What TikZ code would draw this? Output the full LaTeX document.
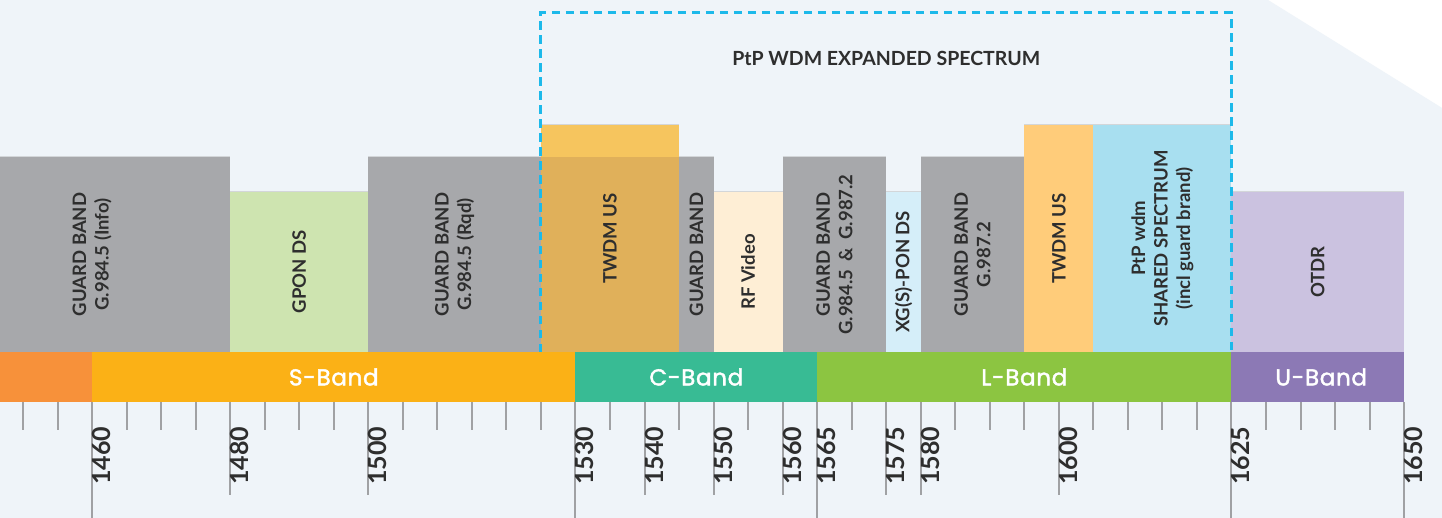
\documentclass[tikz,border=0pt]{standalone}
\usepackage{fontspec}
\setmainfont{Lato}
\newfontfamily\bandfont[LetterSpace=3,FakeBold=1.8]{Poppins}
\definecolor{bg}{HTML}{EFF4F9}
\definecolor{gb}{HTML}{A7A8AB}
\definecolor{gpon}{HTML}{CEE4B0}
\definecolor{twa}{HTML}{F6C55E}
\definecolor{twb}{HTML}{E0B05A}
\definecolor{rfv}{HTML}{FEEED5}
\definecolor{xgs}{HTML}{D5EEF9}
\definecolor{twc}{HTML}{FFCC7A}
\definecolor{ptp}{HTML}{A8DFF0}
\definecolor{otdr}{HTML}{CBC2E0}
\definecolor{ob}{HTML}{F7913A}
\definecolor{sb}{HTML}{FBB116}
\definecolor{cb}{HTML}{38BB94}
\definecolor{lb}{HTML}{8CC541}
\definecolor{ub}{HTML}{8C79B5}
\definecolor{tickc}{HTML}{A0A1A4}
\definecolor{txt}{HTML}{2E2E2E}
\definecolor{dashc}{HTML}{1DB9EA}
\definecolor{edgec}{HTML}{D3D6D9}
\newcommand\mkblock[4]{%
  \fill[#4] (#1,#3) rectangle (#2,352);
  \draw[edgec,line width=1.2pt] (#1,{#3-0.6}) -- (#2,{#3-0.6});}
\begin{document}
\begin{tikzpicture}[x=6.905pt,y=-1pt,
  blocktext/.style={rotate=90,align=center,text=txt,font=\bfseries\fontsize{18.5}{22.5}\selectfont,inner sep=0pt},
  bandtext/.style={text=white,font=\bandfont\fontsize{23}{27}\selectfont,inner sep=0pt},
  axistext/.style={rotate=90,anchor=north west,text=txt,font=\bfseries\fontsize{25}{30}\selectfont,inner sep=0pt,xshift=8pt},
  tickline/.style={draw=tickc,line width=2pt},
  expand/.style={draw=dashc,line width=3pt,dash pattern=on 8.5pt off 5.5pt}]
\def\L{1446.676}\def\R{1655.509}
\useasboundingbox (\L,0) rectangle (\R,518);
\fill[white] (\L,0) rectangle (\R,518);
\fill[bg] (\L,0) -- (1630.3,0) -- (\R,108) -- (\R,518) -- (\L,518) -- cycle;
% spectrum blocks
\mkblock{\L}{1480}{157}{gb}
\mkblock{1480}{1500}{192}{gpon}
\mkblock{1500}{1550}{157}{gb}
\mkblock{1550}{1560}{192}{rfv}
\mkblock{1560}{1575}{157}{gb}
\mkblock{1575}{1580}{192}{xgs}
\mkblock{1580}{1595}{157}{gb}
\mkblock{1595}{1605}{125}{twc}
\mkblock{1605}{1625}{125}{ptp}
\mkblock{1625}{1650}{192}{otdr}
\fill[twa] (1525,125) rectangle (1545,157);
\draw[edgec,line width=1.2pt] (1525,124.4) -- (1545,124.4);
\fill[twb] (1525,157) rectangle (1545,352);
% block labels
\node[blocktext] (g1) at (1460,254.5) {GUARD BAND\\G.984.5 (Info)};
\node[blocktext] (gpds) at (1490,272) {GPON DS};
\node[blocktext] (g2) at (1512.5,254.5) {GUARD BAND\\G.984.5 (Rqd)};
\node[blocktext] (tw1) at (1535,238.5) {TWDM US};
\node[blocktext] (g3) at (1547.5,254.5) {GUARD BAND};
\node[blocktext] (rf) at (1555,272) {RF Video};
\node[blocktext] (g4) at (1567.5,254.5) {GUARD BAND\\G.984.5\hspace{0.45em}\&\hspace{0.45em}G.987.2};
\node[blocktext] (xg) at (1577.5,272) {XG(S)-PON DS};
\node[blocktext] (g5) at (1587.5,254.5) {GUARD BAND\\G.987.2};
\node[blocktext] (tw2) at (1600,238.5) {TWDM US};
\node[blocktext] (ptps) at (1615,238.5) {PtP wdm\\SHARED SPECTRUM\\(incl guard brand)};
\node[blocktext] (ot) at (1637.5,272) {OTDR};
% expanded spectrum frame
\draw[expand] (1525,352) -- (1525,13) -- (1625,13) -- (1625,352);
\node[font=\bfseries\fontsize{19.5}{23}\selectfont,text=txt,inner sep=0pt] (hdr) at (1575,58) {PtP WDM EXPANDED SPECTRUM};
% band bar
\fill[ob] (\L,352) rectangle (1460,402);
\fill[sb] (1460,352) rectangle (1530,402);
\fill[cb] (1530,352) rectangle (1565,402);
\fill[lb] (1565,352) rectangle (1625,402);
\fill[ub] (1625,352) rectangle (1650,402);
\node[bandtext] (sband) at (1495,377) {S-Band};
\node[bandtext] (cband) at (1547.5,377) {C-Band};
\node[bandtext] (lband) at (1595,377) {L-Band};
\node[bandtext] (uband) at (1638,377) {U-Band};
% ticks
\foreach \t in {1450,1455,1465,1470,1475,1485,1490,1495,1505,1510,1515,1520,1525,1535,1545,1555,1570,1585,1590,1595,1605,1610,1615,1620,1630,1635,1640,1645}
  \draw[tickline] (\t,402) -- (\t,430);
\foreach \t in {1480,1500,1540,1550,1560,1575,1580,1600}
  \draw[tickline] (\t,402) -- (\t,495);
\foreach \t in {1460,1530,1565,1625,1650}
  \draw[tickline] (\t,402) -- (\t,518);
\foreach \t in {1460,1480,1500,1530,1540,1550,1560,1565,1575,1580,1600,1625,1650}
  \node[axistext] (lab\t) at (\t,493) {\t};
\end{tikzpicture}
\end{document}
